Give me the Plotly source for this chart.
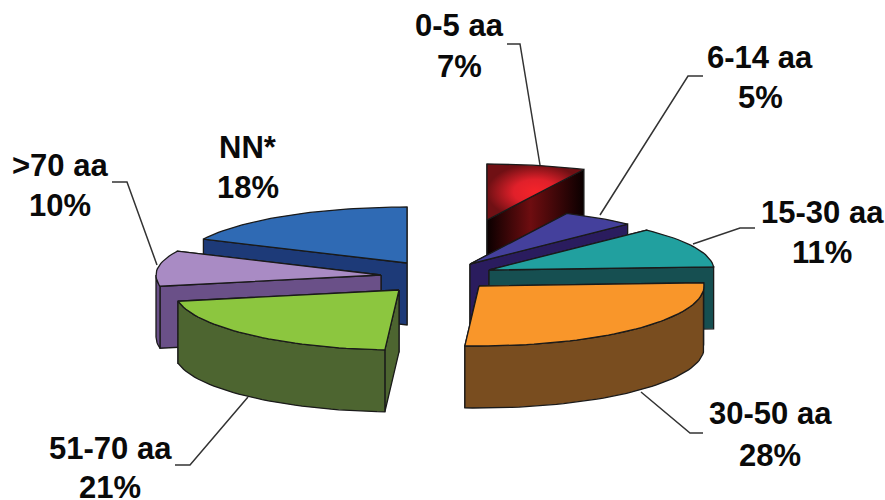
import math
import plotly.graph_objects as go

categories = ["0-5 aa", "6-14 aa", "15-30 aa", "30-50 aa", "51-70 aa", ">70 aa", "NN*"]
shares = [7, 5, 11, 28, 21, 10, 18]

top_colors = ["#ee2226", "#44409c", "#21a09f", "#f9962a", "#8cc63f", "#a98bc4", "#2f6ab4"]
wall_colors = ["#6e0d10", "#2a1c5e", "#164f51", "#794d1f", "#4d6530", "#6a5088", "#1d3a78"]

# layout of the exploded 3D pie (pixels in the 885x500 frame)
apex_x = [487, 470, 489, 479, 399, 381, 407]
apex_y = [220, 264, 270, 286, 290, 275, 263]
RX, RY_BACK, RY_FRONT, DEPTH = 225, 56, 60, 62
PERSPECTIVE_SKEW = 4
draw_order = [0, 6, 1, 2, 5, 4, 3]

label_pos = [(459, 25, 66), (760, 57, 97), (822, 212, 252), (770, 413, 455),
             (110, 448, 487), (60, 165, 205), (248, 147, 187)]
leaders = [
    [(507, 44), (520, 44), (540, 165)],
    [(703, 76), (688, 76), (600, 215)],
    [(755, 228), (740, 228), (693, 244)],
    [(641, 392), (690, 433), (703, 433)],
    [(248, 397), (190, 465), (175, 465)],
    [(112, 182), (127, 182), (157, 265)],
    None,
]
EDGE = "#1a1a1a"
FONT = "Liberation Sans"
FONT_SIZE = 31

fig = go.Figure()


def poly(points, color, grad=None):
    xs = [p[0] for p in points] + [points[0][0]]
    ys = [p[1] for p in points] + [points[0][1]]
    kw = dict(fillcolor=color)
    if grad:
        kw = dict(fillgradient=grad)
    fig.add_trace(go.Scatter(x=xs, y=ys, mode="lines", fill="toself",
                             line=dict(color=EDGE, width=1.3), hoverinfo="skip",
                             showlegend=False, **kw))


def rim_point(ax, ay, deg):
    t = math.radians(deg)
    if 0 < deg < 180:
        t += math.radians(PERSPECTIVE_SKEW) * math.sin(t) ** 3
    c = math.cos(t)
    return (ax + RX * math.sin(t), ay - (RY_BACK if c > 0 else RY_FRONT) * c)


def arc_pts(ax, ay, a0, a1):
    n = max(2, int(abs(a1 - a0) / 2) + 1)
    return [rim_point(ax, ay, a0 + (a1 - a0) * k / n) for k in range(n + 1)]


def drop(points):
    return [(x, y + DEPTH) for x, y in reversed(points)]


starts = []
running = 0
for s in shares:
    starts.append(running * 3.6)
    running += s

for i in draw_order:
    a0, a1 = starts[i], starts[i] + shares[i] * 3.6
    ax, ay = apex_x[i], apex_y[i]
    wall = wall_colors[i]
    wall_grad = None
    top_grad = None
    if i == 0:
        wall_grad = dict(type="horizontal",
                         colorscale=[[0, "#0a0000"], [0.45, "#6e0d10"], [1, "#0a0000"]])
        top_grad = dict(type="radial",
                        colorscale=[[0, "#f5242a"], [0.45, "#e0202a"], [1, "#701014"]])
    # radial walls, the one further back first
    radial = sorted([rim_point(ax, ay, a0), rim_point(ax, ay, a1)], key=lambda p: p[1])
    for p in radial:
        seg = [(ax, ay), p]
        poly(seg + drop(seg), wall, wall_grad)
    # outer wall, only the part that faces the viewer
    f0, f1 = max(a0, 90), min(a1, 270)
    if f1 > f0:
        seg = arc_pts(ax, ay, f0, f1)
        poly(seg + drop(seg), wall)
    # top face
    poly([(ax, ay)] + arc_pts(ax, ay, a0, a1), top_colors[i], top_grad)

for path in leaders:
    if path:
        fig.add_trace(go.Scatter(x=[p[0] for p in path], y=[p[1] for p in path],
                                 mode="lines", line=dict(color="#333333", width=1.5),
                                 hoverinfo="skip", showlegend=False))

for name, share, (cx, y1, y2) in zip(categories, shares, label_pos):
    for text, y in ((name, y1), (f"{share}%", y2)):
        fig.add_annotation(x=cx, y=y, text=f"<b>{text}</b>", showarrow=False,
                           xanchor="center", yanchor="middle",
                           font=dict(family=FONT, size=FONT_SIZE, color="#0a0a0a"))

fig.update_layout(
    width=885, height=500, margin=dict(l=0, r=0, t=0, b=0),
    paper_bgcolor="white", plot_bgcolor="white", showlegend=False,
    xaxis=dict(range=[0, 885], visible=False, fixedrange=True),
    yaxis=dict(range=[500, 0], visible=False, fixedrange=True),
)
fig.write_html("out.html", config={"displayModeBar": False},
               post_script="document.body.style.margin='0';document.body.style.overflow='hidden';")
